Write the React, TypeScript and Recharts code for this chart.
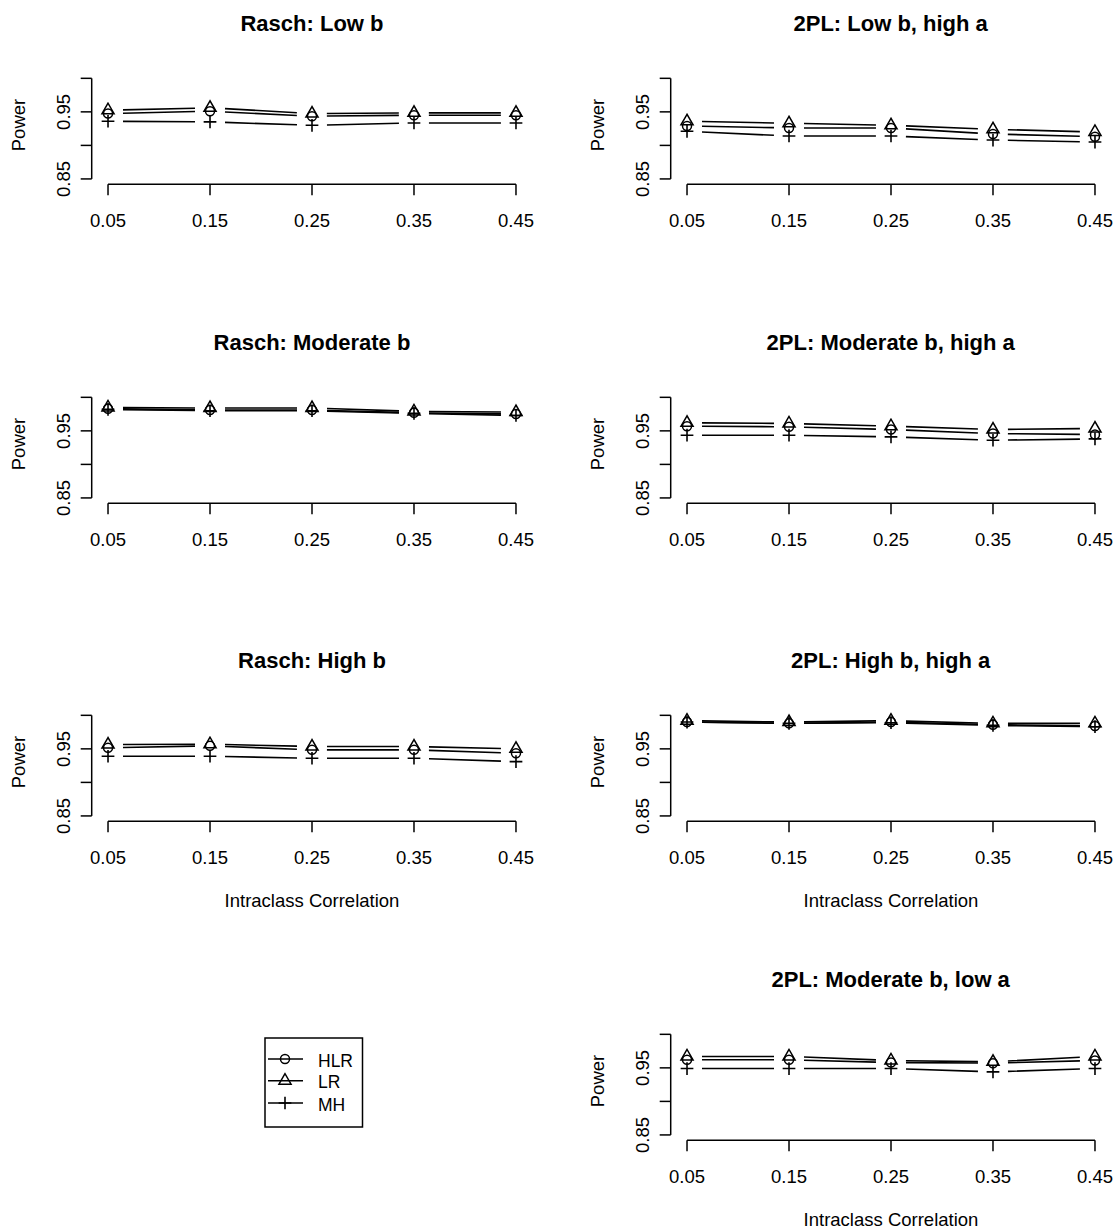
import { LineChart, Line, XAxis, YAxis, ReferenceLine, Label } from 'recharts'

// intraclass correlation levels (x axis)
const icc = [0.05, 0.15, 0.25, 0.35, 0.45]
const yTicks = [0.85, 0.9, 0.95, 1.0]

// Rasch: Low b
const raschLowHLR = [0.9475, 0.951, 0.9435, 0.945, 0.945]
const raschLowLR = [0.9525, 0.956, 0.9475, 0.9485, 0.9485]
const raschLowMH = [0.936, 0.935, 0.93, 0.9335, 0.9335]

// 2PL: Low b, high a
const twoplLowHLR = [0.929, 0.926, 0.926, 0.917, 0.913]
const twoplLowLR = [0.936, 0.933, 0.93, 0.924, 0.92]
const twoplLowMH = [0.921, 0.914, 0.914, 0.908, 0.905]

// Rasch: Moderate b
const raschModHLR = [0.983, 0.981, 0.981, 0.977, 0.975]
const raschModLR = [0.985, 0.984, 0.984, 0.979, 0.978]
const raschModMH = [0.982, 0.98, 0.98, 0.976, 0.973]

// 2PL: Moderate b, high a
const twoplModHLR = [0.957, 0.956, 0.952, 0.946, 0.9445]
const twoplModLR = [0.962, 0.961, 0.957, 0.952, 0.9535]
const twoplModMH = [0.9435, 0.9435, 0.941, 0.936, 0.938]

// Rasch: High b
const raschHighHLR = [0.9515, 0.9545, 0.9485, 0.9485, 0.9435]
const raschHighLR = [0.9565, 0.957, 0.9535, 0.9535, 0.95]
const raschHighMH = [0.939, 0.939, 0.936, 0.936, 0.931]

// 2PL: High b, high a
const twoplHighHLR = [0.99, 0.988, 0.99, 0.986, 0.984]
const twoplHighLR = [0.992, 0.99, 0.992, 0.988, 0.988]
const twoplHighMH = [0.99, 0.988, 0.989, 0.985, 0.983]

// 2PL: Moderate b, low a
const twoplModLowHLR = [0.962, 0.962, 0.958, 0.957, 0.961]
const twoplModLowLR = [0.967, 0.967, 0.961, 0.959, 0.967]
const twoplModLowMH = [0.949, 0.949, 0.949, 0.944, 0.949]

const FONT = '"Liberation Sans", Arial, Helvetica, sans-serif'
const FS = 18.5
const R = 4.5 // base symbol size

type Kind = 'circle' | 'triangle' | 'plus'

function symbol(kind: Kind, cx: number, cy: number, key?: string) {
  if (kind === 'circle') {
    return <circle key={key} cx={cx} cy={cy} r={R} fill="none" stroke="#000" strokeWidth={1.5} />
  }
  if (kind === 'triangle') {
    const t = 1.555 * R
    const h = 0.7776 * R
    const w = 1.347 * R
    return (
      <polygon
        key={key}
        points={`${cx},${cy - t} ${cx - w},${cy + h} ${cx + w},${cy + h}`}
        fill="none"
        stroke="#000"
        strokeWidth={1.5}
      />
    )
  }
  const a = 1.414 * R
  return <path key={key} d={`M${cx - a},${cy}H${cx + a}M${cx},${cy - a}V${cy + a}`} stroke="#000" strokeWidth={1.6} fill="none" />
}

function makeDot(kind: Kind) {
  return (p: any) => {
    if (p.cx == null || p.cy == null) return <g key={`e-${kind}-${p.index}`} />
    return symbol(kind, p.cx, p.cy, `${kind}-${p.index}`)
  }
}

const XTick = (p: any) => (
  <text x={p.x} y={p.y + 31.7} textAnchor="middle" fontFamily={FONT} fontSize={FS} fill="#000">
    {Number(p.payload.value).toFixed(2)}
  </text>
)

const YTick = (p: any) => {
  const v = p.payload.value
  if (Math.abs(v - 0.85) > 1e-6 && Math.abs(v - 0.95) > 1e-6) return <g />
  const x = p.x - 10.7
  return (
    <text
      x={x}
      y={p.y}
      transform={`rotate(-90 ${x} ${p.y})`}
      textAnchor="middle"
      fontFamily={FONT}
      fontSize={FS}
      fill="#000"
    >
      {v.toFixed(2)}
    </text>
  )
}

const W = 534
const H = 300
const colLeft = [0, 578.7]
const rowTop = [0, 318.7, 637.3, 956]

interface PanelProps {
  title: string
  hlr: number[]
  lr: number[]
  mh: number[]
  col: number
  row: number
  xLabel?: boolean
}

function Panel({ title, hlr, lr, mh, col, row, xLabel }: PanelProps) {
  const data = icc.map((x, i) => ({ icc: x, hlr: hlr[i], lr: lr[i], mh: mh[i] }))
  // type "b": line broken around each point (segment spacing is 102px)
  const dash = '0 15 72 15'
  return (
    <div style={{ position: 'absolute', left: colLeft[col], top: rowTop[row], width: W, height: H }}>
      <div
        style={{
          position: 'absolute',
          left: 91.7,
          width: 440.6,
          top: 13,
          textAlign: 'center',
          fontFamily: FONT,
          fontWeight: 'bold',
          fontSize: 22,
          lineHeight: '22px',
          whiteSpace: 'nowrap',
        }}
      >
        {title}
      </div>
      <LineChart width={W} height={H} data={data} margin={{ top: 74.3, right: 1.7, bottom: 75.7, left: 31.7 }}>
        <XAxis
          dataKey="icc"
          type="number"
          domain={[0.034, 0.466]}
          ticks={icc}
          interval={0}
          allowDataOverflow
          axisLine={false}
          tickLine={{ stroke: '#000', strokeWidth: 1.5 }}
          tickSize={11}
          tickMargin={0}
          height={40}
          tick={XTick}
        >
          {xLabel && (
            <Label
              content={() => (
                <text x={312} y={270} textAnchor="middle" fontFamily={FONT} fontSize={FS} fill="#000">
                  Intraclass Correlation
                </text>
              )}
            />
          )}
        </XAxis>
        <YAxis
          type="number"
          domain={[0.842, 1.006]}
          ticks={yTicks}
          interval={0}
          allowDataOverflow
          axisLine={false}
          tickLine={{ stroke: '#000', strokeWidth: 1.5 }}
          tickSize={11}
          tickMargin={0}
          width={60}
          tick={YTick}
        >
          <Label
            content={() => (
              <text
                x={25}
                y={125}
                transform="rotate(-90 25 125)"
                textAnchor="middle"
                fontFamily={FONT}
                fontSize={FS}
                fill="#000"
              >
                Power
              </text>
            )}
          />
        </YAxis>
        <ReferenceLine
          segment={[{ x: 0.034, y: 0.85 }, { x: 0.034, y: 1.0 }]}
          stroke="#000"
          strokeWidth={1.5}
          ifOverflow="visible"
        />
        <ReferenceLine
          segment={[{ x: 0.05, y: 0.842 }, { x: 0.45, y: 0.842 }]}
          stroke="#000"
          strokeWidth={1.5}
          ifOverflow="visible"
        />
        <Line dataKey="hlr" stroke="#000" strokeWidth={1.6} strokeDasharray={dash} dot={makeDot('circle')} activeDot={false} isAnimationActive={false} />
        <Line dataKey="lr" stroke="#000" strokeWidth={1.6} strokeDasharray={dash} dot={makeDot('triangle')} activeDot={false} isAnimationActive={false} />
        <Line dataKey="mh" stroke="#000" strokeWidth={1.6} strokeDasharray={dash} dot={makeDot('plus')} activeDot={false} isAnimationActive={false} />
      </LineChart>
    </div>
  )
}

const legendItems: { name: string; kind: Kind }[] = [
  { name: 'HLR', kind: 'circle' },
  { name: 'LR', kind: 'triangle' },
  { name: 'MH', kind: 'plus' },
]
const legendRows = [22, 43.7, 66]

function LegendBox() {
  return (
    <svg style={{ position: 'absolute', left: 264, top: 1037 }} width={100} height={92}>
      <rect x={1} y={1} width={97.5} height={89} fill="#fff" stroke="#000" strokeWidth={1.5} />
      {legendItems.map((it, i) => (
        <g key={it.name}>
          <line x1={4} x2={39} y1={legendRows[i]} y2={legendRows[i]} stroke="#000" strokeWidth={1.5} />
          {symbol(it.kind, 21, legendRows[i])}
          <text x={54} y={legendRows[i] + 7.5} fontFamily={FONT} fontSize={17.5} fill="#000">
            {it.name}
          </text>
        </g>
      ))}
    </svg>
  )
}

export default function App() {
  return (
    <div
      style={{
        position: 'absolute',
        left: 0,
        top: 0,
        width: 1113,
        height: 1232,
        background: '#fff',
        overflow: 'hidden',
      }}
    >
      <Panel title="Rasch: Low b" hlr={raschLowHLR} lr={raschLowLR} mh={raschLowMH} col={0} row={0} />
      <Panel title="2PL: Low b, high a" hlr={twoplLowHLR} lr={twoplLowLR} mh={twoplLowMH} col={1} row={0} />
      <Panel title="Rasch: Moderate b" hlr={raschModHLR} lr={raschModLR} mh={raschModMH} col={0} row={1} />
      <Panel title="2PL: Moderate b, high a" hlr={twoplModHLR} lr={twoplModLR} mh={twoplModMH} col={1} row={1} />
      <Panel title="Rasch: High b" hlr={raschHighHLR} lr={raschHighLR} mh={raschHighMH} col={0} row={2} xLabel />
      <Panel title="2PL: High b, high a" hlr={twoplHighHLR} lr={twoplHighLR} mh={twoplHighMH} col={1} row={2} xLabel />
      <Panel title="2PL: Moderate b, low a" hlr={twoplModLowHLR} lr={twoplModLowLR} mh={twoplModLowMH} col={1} row={3} xLabel />
      <LegendBox />
    </div>
  )
}
